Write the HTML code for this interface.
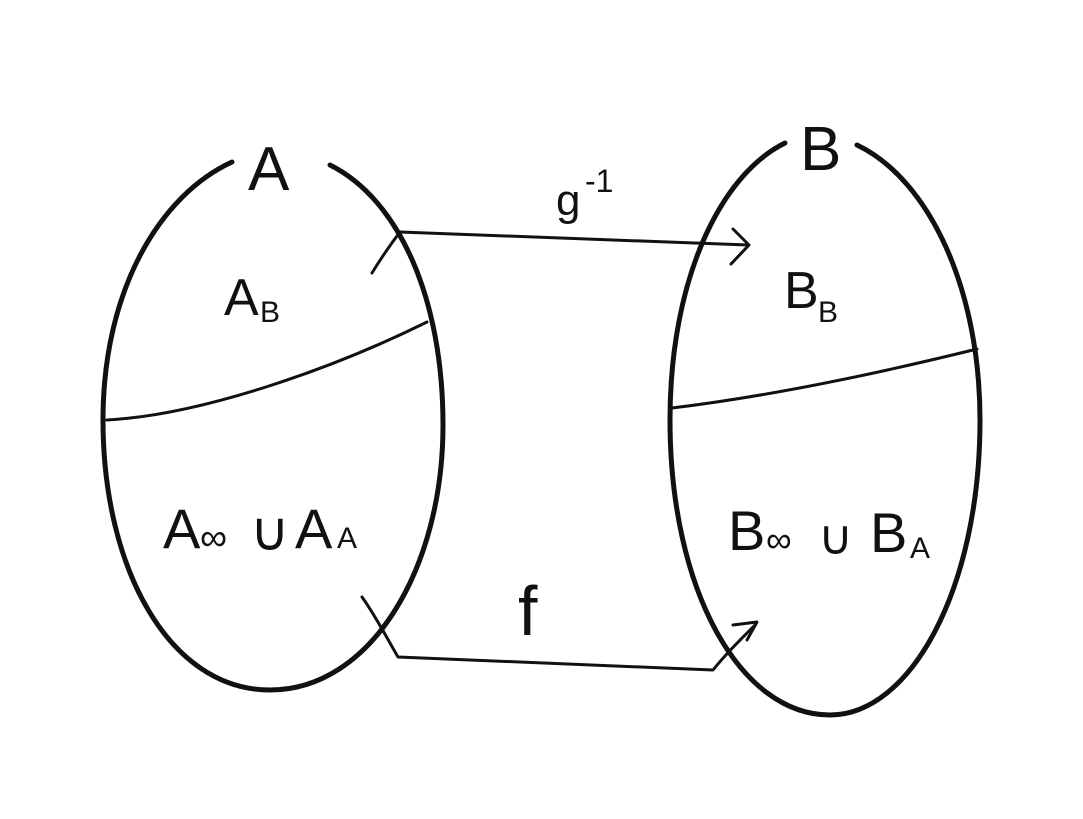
<!DOCTYPE html>
<html><head><meta charset="utf-8"><style>
html,body{margin:0;padding:0;background:#fff;}
svg{display:block}
text{font-family:"Liberation Sans",sans-serif;fill:#111;font-weight:300}
</style></head><body>
<svg width="1083" height="819" viewBox="0 0 1083 819" xmlns="http://www.w3.org/2000/svg">
<g fill="none" stroke="#111" stroke-linecap="round" stroke-linejoin="round">
<path d="M330 165 C 400 200, 443 300, 443 425 C 443 570, 370 690, 270 690 C 170 690, 103 570, 103 420 C 103 290, 160 195, 232 162" stroke-width="5"/>
<path d="M857 145 C 930 180, 980 290, 980 420 C 980 590, 910 715, 830 715 C 740 715, 670 590, 670 420 C 670 280, 720 175, 785 143" stroke-width="5"/>
<path d="M107 420 C 200 415, 330 370, 427 322" stroke-width="3"/>
<path d="M672 408 C 780 395, 900 368, 977 349" stroke-width="3"/>
<path d="M372 273 C 380 260, 390 245, 400 232 L 748 245" stroke-width="3"/>
<path d="M733 229 L 749 245 L 731 264" stroke-width="3"/>
<path d="M362 597 C 375 615, 388 640, 398 657 L 713 670 C 725 655, 740 640, 755 625" stroke-width="3"/>
<path d="M733 625 L 757 622 L 747 640" stroke-width="3"/>
</g>
<text x="248" y="190" font-size="62">A</text>
<text x="800" y="170" font-size="62">B</text>
<text x="556" y="215" font-size="44">g</text>
<text x="585" y="192" font-size="32">-1</text>
<text x="518" y="635" font-size="70">f</text>
<text x="224" y="315" font-size="52">A</text>
<text x="260" y="322" font-size="30">B</text>
<text x="784" y="308" font-size="52">B</text>
<text x="818" y="322" font-size="30">B</text>
<text x="163" y="548" font-size="56">A</text>
<text x="200" y="550" font-size="38">∞</text>
<text x="250" y="550" font-size="54">∪</text>
<text x="295" y="548" font-size="56">A</text>
<text x="337" y="548" font-size="30">A</text>
<text x="728" y="550" font-size="56">B</text>
<text x="766" y="552" font-size="36">∞</text>
<text x="818" y="554" font-size="48">∪</text>
<text x="870" y="552" font-size="56">B</text>
<text x="910" y="558" font-size="30">A</text>
</svg>
</body></html>
